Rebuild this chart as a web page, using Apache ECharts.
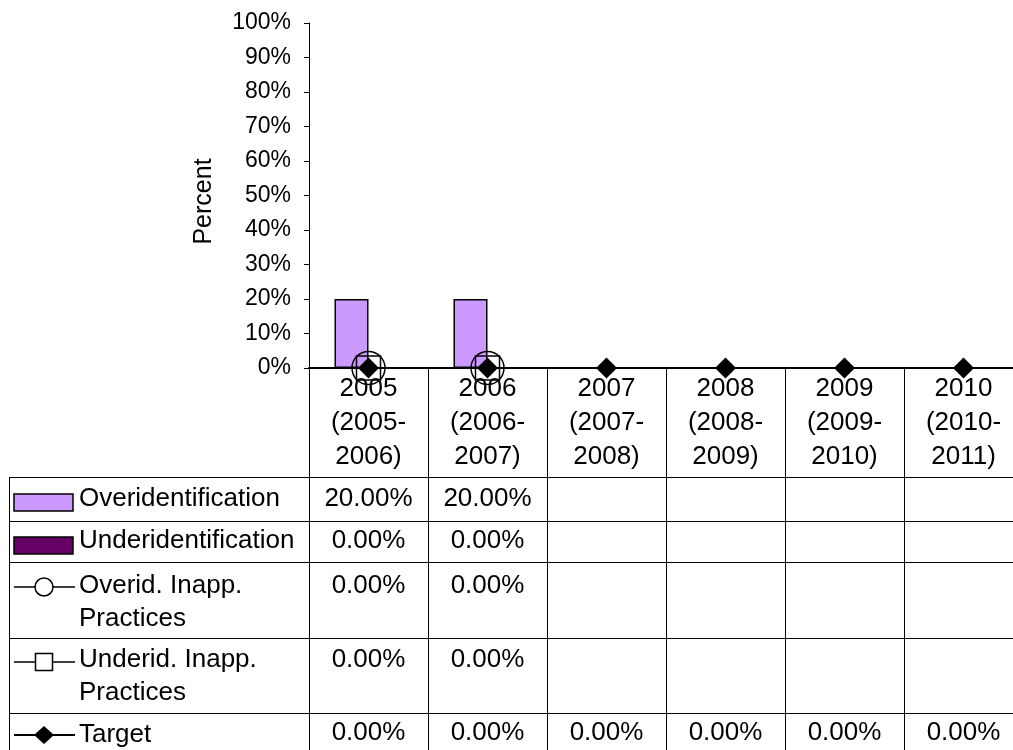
<!DOCTYPE html>
<html><head><meta charset="utf-8">
<script src="https://cdn.jsdelivr.net/npm/echarts@6/dist/echarts.min.js"></script>
<style>html,body{margin:0;padding:0;background:#fff;overflow:hidden}#c{width:1030px;height:750px}</style>
</head><body><div id="c"></div>
<script>
// ---- data ----
const categories = ['2005\n(2005-\n2006)', '2006\n(2006-\n2007)', '2007\n(2007-\n2008)', '2008\n(2008-\n2009)', '2009\n(2009-\n2010)', '2010\n(2010-\n2011)'];
const seriesNames = ['Overidentification', 'Underidentification', 'Overid. Inapp.\nPractices', 'Underid. Inapp.\nPractices', 'Target'];
const overidentification = [20, 20, null, null, null, null];
const underidentification = [0, 0, null, null, null, null];
const overidInapp = [0, 0, null, null, null, null];
const underidInapp = [0, 0, null, null, null, null];
const target = [0, 0, 0, 0, 0, 0];
const yMin = 0, yMax = 100, yStep = 10;

const FONT = '"Liberation Sans", Arial, sans-serif';
const chart = echarts.init(document.getElementById('c'), null, {renderer: 'canvas'});

chart.setOption({
  animation: false,
  backgroundColor: '#fff',
  grid: {left: 309, top: 23, right: 7, height: 345, containLabel: false},
  xAxis: {
    type: 'category', data: categories,
    axisLine: {lineStyle: {color: '#000', width: 2}},
    axisTick: {show: true, length: 390, lineStyle: {color: '#000', width: 1}},
    axisLabel: {interval: 0, margin: 4, fontSize: 26, lineHeight: 34, color: '#000', fontFamily: FONT},
    splitLine: {show: false}
  },
  yAxis: {
    type: 'value', min: yMin, max: yMax, interval: yStep,
    name: 'Percent', nameLocation: 'middle', nameRotate: 90, nameGap: 92,
    nameTextStyle: {fontSize: 25, color: '#000', fontFamily: FONT, padding: [0, 12, 0, 0]},
    axisLine: {show: true, lineStyle: {color: '#000', width: 1}},
    axisTick: {show: true, length: 5, lineStyle: {color: '#000'}},
    axisLabel: {formatter: '{value}%', margin: 18, fontSize: 23, color: '#000', fontFamily: FONT},
    splitLine: {show: false}
  },
  series: [
    {name: seriesNames[0], type: 'bar', data: overidentification, barWidth: 34, barGap: '0%',
     itemStyle: {color: '#CC99FF', borderColor: '#000', borderWidth: 1.5}},
    {name: seriesNames[1], type: 'bar', data: underidentification, barWidth: 34, barGap: '0%',
     itemStyle: {color: '#660066', borderColor: '#000', borderWidth: 1.5}},
    {name: seriesNames[2], type: 'line', data: overidInapp, symbol: 'circle', symbolSize: 33, z: 5,
     lineStyle: {color: '#000', width: 1.5}, itemStyle: {color: 'rgba(0,0,0,0)', borderColor: '#000', borderWidth: 1.5}},
    {name: seriesNames[3], type: 'line', data: underidInapp, symbol: 'rect', symbolSize: 24, z: 6,
     lineStyle: {color: '#000', width: 1.5}, itemStyle: {color: 'rgba(0,0,0,0)', borderColor: '#000', borderWidth: 1.5}},
    {name: seriesNames[4], type: 'line', data: target, symbol: 'diamond', symbolSize: 21, z: 7,
     lineStyle: {color: '#000', width: 2}, itemStyle: {color: '#000', borderColor: '#000', borderWidth: 0}}
  ]
});

// ---- data table under the chart ----
const c0 = chart.convertToPixel({xAxisIndex: 0}, 0);
const c1 = chart.convertToPixel({xAxisIndex: 0}, 1);
const colW = c1 - c0;
const tableLeft = 9;
const tableRight = c0 + (categories.length - 0.5) * colW;
const rowTops = [477, 521, 562, 638, 713];
const valueY = [499, 541, 586, 660, 733];
const rowData = [overidentification, underidentification, overidInapp, underidInapp, target];
const fmt = v => (v == null ? '' : v.toFixed(2) + '%');
const g = [];
const txt = (text, x, y, align) => ({type: 'text', z: 100, style: {text, x, y, fill: '#000', font: '26px ' + FONT, align: align, textAlign: align, verticalAlign: 'middle', textVerticalAlign: 'middle', lineHeight: 33}});
const hline = (y) => ({type: 'line', z: 100, shape: {x1: tableLeft, y1: y + 0.5, x2: tableRight, y2: y + 0.5}, style: {stroke: '#000', lineWidth: 1}});
rowTops.forEach(y => g.push(hline(y)));
g.push({type: 'line', z: 100, shape: {x1: tableLeft + 0.5, y1: rowTops[0], x2: tableLeft + 0.5, y2: 760}, style: {stroke: '#000', lineWidth: 1}});
rowData.forEach((arr, r) => {
  arr.forEach((v, i) => {
    const cx = chart.convertToPixel({xAxisIndex: 0}, i);
    g.push(txt(fmt(v), cx, valueY[r], 'center'));
  });
});
// legend keys
const keyX1 = 14, keyX2 = 73, keyCx = 44;
g.push({type: 'rect', z: 100, shape: {x: keyX1, y: 494, width: keyX2 - keyX1, height: 17}, style: {fill: '#CC99FF', stroke: '#000', lineWidth: 1.5}});
g.push({type: 'rect', z: 100, shape: {x: keyX1, y: 537, width: keyX2 - keyX1, height: 17}, style: {fill: '#660066', stroke: '#000', lineWidth: 1.5}});
g.push({type: 'line', z: 100, shape: {x1: keyX1, y1: 587, x2: 75, y2: 587}, style: {stroke: '#000', lineWidth: 1.5}});
g.push({type: 'circle', z: 101, shape: {cx: keyCx, cy: 587, r: 9}, style: {fill: '#fff', stroke: '#000', lineWidth: 1.5}});
g.push({type: 'line', z: 100, shape: {x1: keyX1, y1: 662, x2: 75, y2: 662}, style: {stroke: '#000', lineWidth: 1.5}});
g.push({type: 'rect', z: 101, shape: {x: keyCx - 8.5, y: 653.5, width: 17, height: 17}, style: {fill: '#fff', stroke: '#000', lineWidth: 1.5}});
g.push({type: 'line', z: 100, shape: {x1: keyX1, y1: 735, x2: 75, y2: 735}, style: {stroke: '#000', lineWidth: 2}});
g.push({type: 'polygon', z: 101, shape: {points: [[keyCx, 726], [keyCx + 10, 735], [keyCx, 744], [keyCx - 10, 735]]}, style: {fill: '#000'}});
// legend names
const nameY = [499, 541, 602.5, 676.5, 735];
seriesNames.forEach((n, r) => g.push(txt(n, 79, nameY[r], 'left')));
chart.setOption({graphic: g});
</script></body></html>
